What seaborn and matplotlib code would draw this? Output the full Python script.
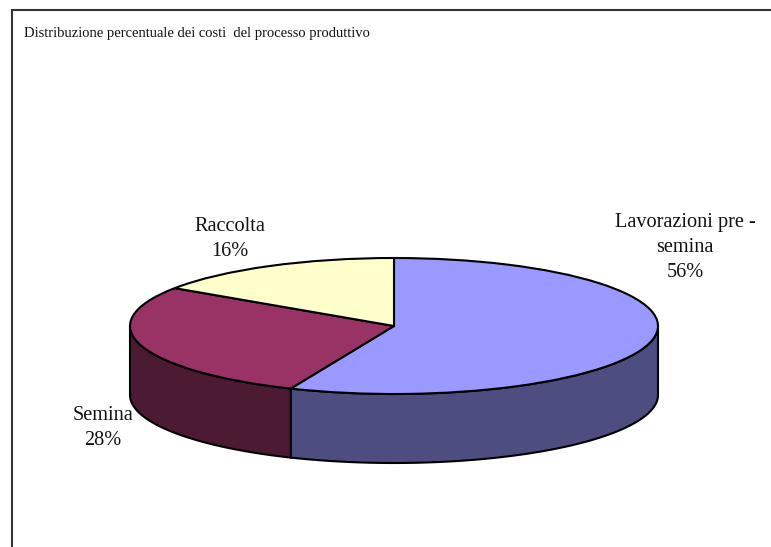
import numpy as np
import matplotlib
matplotlib.use('Agg')
import matplotlib.pyplot as plt
from matplotlib.lines import Line2D
import seaborn as sns

labels = ['Lavorazioni pre -\nsemina\n56%', 'Semina\n28%', 'Raccolta\n16%']
shares = [56.4, 28.0, 15.6]
top_colors = ['#9999FF', '#993366', '#FFFFCC']
side_colors = ['#4D4D80', '#4D1A33', '#808066']
title = 'Distribuzione percentuale dei costi  del processo produttivo'

W, H = 771, 547
CX, CY, RX, RY, DEPTH = 394, 326, 264, 68, 69

sns.set_theme(style='white')
plt.rcParams['font.family'] = ['Liberation Serif', 'DejaVu Serif']

fig = plt.figure(figsize=(W / 100, H / 100), dpi=100, facecolor='white')
ax = fig.add_axes([0, 0, 1, 1])

# top face of the pie, squashed to an ellipse by the axis limits below
ax.pie(shares, colors=top_colors, startangle=90, counterclock=False, radius=1,
       wedgeprops={'edgecolor': 'black', 'linewidth': 1.5, 'zorder': 3})
ax.set_aspect('auto')
ax.set_xlim(-CX / RX, (W - CX) / RX)
ax.set_ylim((CY - H) / RY, CY / RY)
ax.axis('off')

# side wall: only the part of each slice on the front half of the ellipse
drop = DEPTH / RY
start = 90.0
for share, color in zip(shares, side_colors):
    end = start - share * 3.6
    lo, hi = max(end, -180.0), min(start, 0.0)
    if hi > lo:
        t = np.radians(np.linspace(hi, lo, 120))
        x, y = np.cos(t), np.sin(t)
        ax.fill(np.r_[x, x[::-1]], np.r_[y, y[::-1] - drop], facecolor=color,
                edgecolor='black', linewidth=1.5, zorder=2, clip_on=False)
    start = end


def put_text(px, py, text, size):
    fig.text(px / W, 1 - py / H, text, fontsize=size, color='#111111', ha='center',
             va='center', linespacing=1.45, zorder=5)


put_text(685, 247.5, labels[0], 14.6)
put_text(103, 428, labels[1], 14.6)
put_text(230, 239, labels[2], 14.6)
fig.text(24 / W, 1 - 33 / H, title, fontsize=10.5, color='#111111', ha='left', va='center')

# outer border, open at right and bottom where the page is cropped
for xs, ys in [((11.5, 11.5), (H, 10)), ((11.5, W), (10, 10))]:
    fig.add_artist(Line2D([v / W for v in xs], [1 - v / H for v in ys],
                          color='#333333', linewidth=1.5))

fig.savefig('out.png', dpi=100)
